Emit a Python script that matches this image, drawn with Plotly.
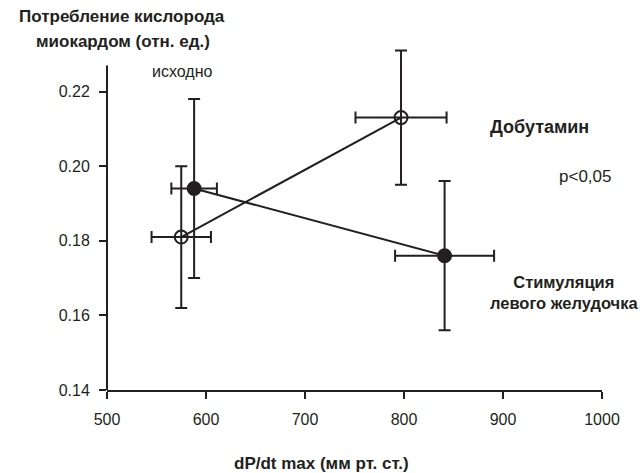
import plotly.graph_objects as go

# dP/dt max (mm Hg) and myocardial O2 consumption (rel. units), mean ± error
dob_x = [575, 797]
dob_y = [0.181, 0.213]
dob_xerr = [30, 46]
dob_yerr = [0.019, 0.018]

stim_x = [588, 841]
stim_y = [0.194, 0.176]
stim_xerr = [23, 50]
stim_yerr = [0.024, 0.020]

x_ticks = [500, 600, 700, 800, 900, 1000]
y_ticks = [0.14, 0.16, 0.18, 0.20, 0.22]

INK = "#231f20"
FONT = "Liberation Sans, Arial, sans-serif"

fig = go.Figure()

def series(xs, ys, xe, ye, symbol, fill):
    return go.Scatter(
        x=xs, y=ys, mode="lines+markers",
        line=dict(color=INK, width=2),
        marker=dict(symbol=symbol, size=13, color=fill,
                    line=dict(color=INK, width=2)),
        error_x=dict(type="data", array=xe, color=INK, thickness=2, width=6),
        error_y=dict(type="data", array=ye, color=INK, thickness=2, width=6),
        showlegend=False, cliponaxis=False,
    )

fig.add_trace(series(dob_x, dob_y, dob_xerr, dob_yerr, "circle-open", INK))
fig.add_trace(series(stim_x, stim_y, stim_xerr, stim_yerr, "circle", INK))

axis_common = dict(
    showgrid=False, zeroline=False,
    ticks="outside", ticklen=7, tickwidth=2, tickcolor=INK,
    tickfont=dict(family=FONT, size=16, color=INK),
)

fig.update_xaxes(range=[500, 1000], tickvals=x_ticks,
                 ticktext=[str(v) for v in x_ticks],
                 showline=True, linecolor=INK, linewidth=2,
                 ticklabelstandoff=7, **axis_common)
# the y range leaves headroom above the axis line for the top error cap
fig.update_yaxes(range=[0.14, 0.233], tickvals=y_ticks,
                 ticktext=[f"{v:.2f}" for v in y_ticks],
                 showline=False, ticklabelstandoff=6, **axis_common)

# vertical axis line ends a little above the last tick
fig.add_shape(type="line", xref="paper", yref="y", x0=0, x1=0,
              y0=0.14, y1=0.227, line=dict(color=INK, width=2),
              layer="above")

def note(text, x, y, size, bold=False, ref="data"):
    txt = f"<b>{text}</b>" if bold else text
    fig.add_annotation(
        text=txt, x=x, y=y, showarrow=False,
        xref="x" if ref == "data" else "paper",
        yref="y" if ref == "data" else "paper",
        xanchor="center", yanchor="middle",
        font=dict(family=FONT, size=size, color=INK),
    )

# axis titles sit outside the plotting area, so they use paper coordinates
note("Потребление кислорода", 0.0313, 1.075, 17, bold=True, ref="paper")
note("миокардом (отн. ед.)", 0.0323, 1.003, 17, bold=True, ref="paper")
note("dP/dt max (мм рт. ст.)", 0.434, -0.2104, 17, bold=True, ref="paper")

note("исходно", 575.5, 0.2253, 16)
note("Добутамин", 937, 0.2106, 18, bold=True)
note("p<0,05", 982.5, 0.1971, 17)
note("Стимуляция<br>левого желудочка", 962, 0.166, 16.5, bold=True)

fig.update_layout(
    width=640, height=473,
    margin=dict(l=107, r=38, t=43, b=83),
    paper_bgcolor="white", plot_bgcolor="white",
    font=dict(family=FONT, color=INK),
)

fig.write_html("out.html")
